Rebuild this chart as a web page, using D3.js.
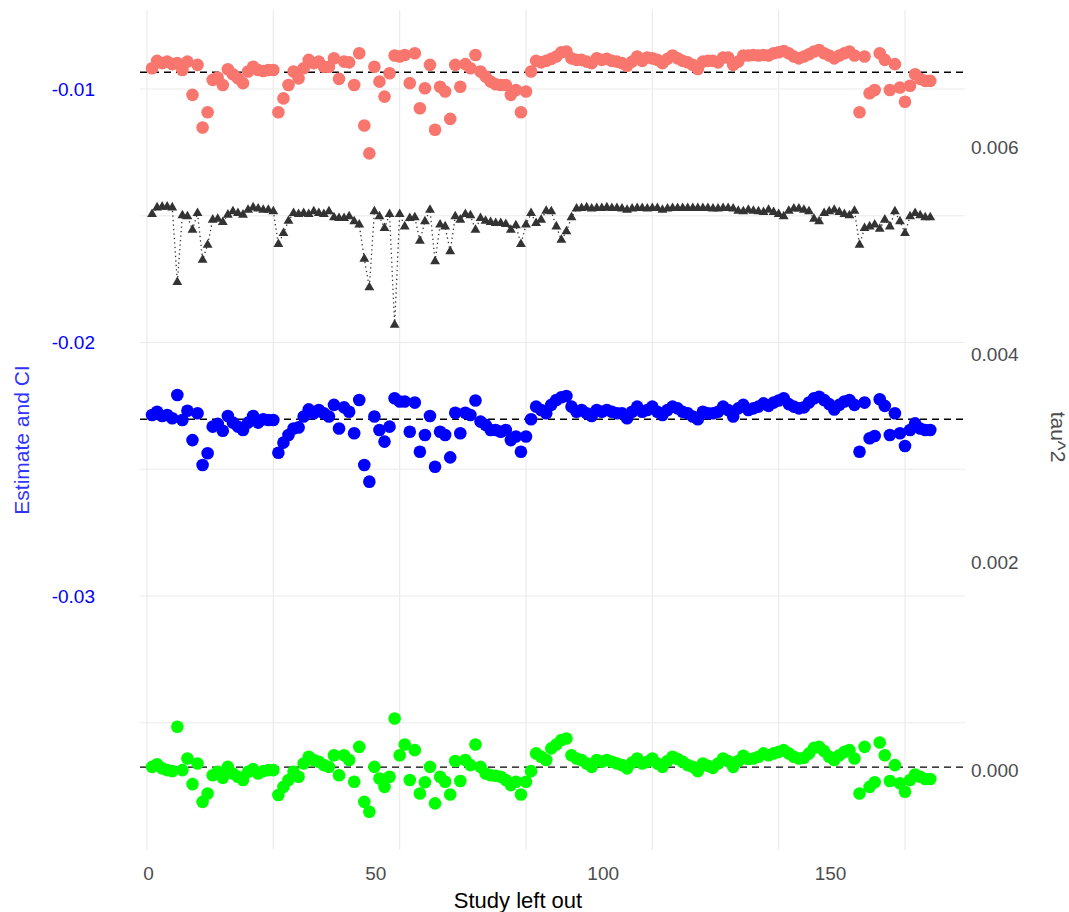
<!DOCTYPE html>
<html lang="en">
<head>
<meta charset="UTF-8">
<script src="https://d3js.org/d3.v7.min.js"></script>
<title>Leave-one-out</title>
<style>
  body { margin: 0; background: #fff; }
  svg { display: block; font-family: "Liberation Sans", Arial, sans-serif; }
</style>
</head>
<body>
<svg width="1069" height="912"></svg>
<script>
// study left out (1..155)
const study = d3.range(1, 156)

// pooled estimate with each study left out
const estimate = [
  -0.02286, -0.02273, -0.02290, -0.02286, -0.02299, -0.02207, -0.02306, -0.02269, -0.02385, -0.02279,
  -0.02483, -0.02437, -0.02332, -0.02321, -0.02348, -0.02290, -0.02316, -0.02332, -0.02345, -0.02316,
  -0.02290, -0.02316, -0.02303, -0.02306, -0.02306, -0.02435, -0.02395, -0.02365, -0.02339, -0.02335,
  -0.02292, -0.02264, -0.02279, -0.02266, -0.02279, -0.02292, -0.02246, -0.02339, -0.02256, -0.02273,
  -0.02358, -0.02227, -0.02483, -0.02549, -0.02292, -0.02345, -0.02391, -0.02332, -0.02220, -0.02233,
  -0.02233, -0.02352, -0.02237, -0.02431, -0.02365, -0.02290, -0.02490, -0.02352, -0.02365, -0.02453,
  -0.02277, -0.02358, -0.02277, -0.02286, -0.02229, -0.02312, -0.02325, -0.02345, -0.02345, -0.02352,
  -0.02345, -0.02385, -0.02371, -0.02431, -0.02371, -0.02303, -0.02253, -0.02266, -0.02279, -0.02246,
  -0.02227, -0.02216, -0.02211, -0.02253, -0.02273, -0.02266, -0.02279, -0.02290, -0.02266, -0.02273,
  -0.02266, -0.02273, -0.02279, -0.02279, -0.02299, -0.02273, -0.02253, -0.02273, -0.02266, -0.02253,
  -0.02273, -0.02286, -0.02266, -0.02253, -0.02260, -0.02273, -0.02279, -0.02292, -0.02303, -0.02273,
  -0.02279, -0.02279, -0.02273, -0.02253, -0.02266, -0.02292, -0.02260, -0.02246, -0.02266, -0.02260,
  -0.02253, -0.02240, -0.02250, -0.02237, -0.02229, -0.02220, -0.02243, -0.02253, -0.02260, -0.02256,
  -0.02237, -0.02220, -0.02214, -0.02227, -0.02243, -0.02264, -0.02246, -0.02233, -0.02227, -0.02246,
  -0.02431, -0.02237, -0.02378, -0.02369, -0.02224, -0.02250, -0.02365, -0.02279, -0.02358, -0.02408,
  -0.02345, -0.02319, -0.02339, -0.02345, -0.02345
]

// upper CI bound
const upper = [
  -0.00918, -0.00889, -0.00898, -0.00892, -0.00902, -0.00898, -0.00925, -0.00892, -0.01023, -0.00905,
  -0.01152, -0.01092, -0.00964, -0.00955, -0.00984, -0.00922, -0.00942, -0.00958, -0.00977, -0.00931,
  -0.00912, -0.00925, -0.00929, -0.00925, -0.00925, -0.01092, -0.01037, -0.00984, -0.00931, -0.00958,
  -0.00918, -0.00885, -0.00898, -0.00892, -0.00912, -0.00912, -0.00879, -0.00960, -0.00892, -0.00895,
  -0.00984, -0.00859, -0.01144, -0.01254, -0.00912, -0.00971, -0.01030, -0.00938, -0.00868, -0.00872,
  -0.00866, -0.00977, -0.00859, -0.01076, -0.00997, -0.00905, -0.01161, -0.00991, -0.01010, -0.01118,
  -0.00905, -0.00991, -0.00902, -0.00918, -0.00866, -0.00931, -0.00951, -0.00971, -0.00981, -0.00984,
  -0.00984, -0.01023, -0.01004, -0.01092, -0.01010, -0.00931, -0.00889, -0.00895, -0.00889, -0.00881,
  -0.00872, -0.00855, -0.00852, -0.00879, -0.00885, -0.00885, -0.00892, -0.00898, -0.00879, -0.00885,
  -0.00881, -0.00889, -0.00892, -0.00898, -0.00908, -0.00892, -0.00872, -0.00889, -0.00876, -0.00879,
  -0.00885, -0.00898, -0.00881, -0.00868, -0.00879, -0.00889, -0.00895, -0.00905, -0.00921, -0.00892,
  -0.00889, -0.00889, -0.00895, -0.00876, -0.00876, -0.00905, -0.00892, -0.00868, -0.00868, -0.00866,
  -0.00868, -0.00866, -0.00868, -0.00859, -0.00855, -0.00850, -0.00859, -0.00872, -0.00879, -0.00872,
  -0.00863, -0.00852, -0.00846, -0.00859, -0.00868, -0.00879, -0.00868, -0.00859, -0.00852, -0.00868,
  -0.01092, -0.00872, -0.01017, -0.01004, -0.00859, -0.00885, -0.01004, -0.00902, -0.00994, -0.01050,
  -0.00987, -0.00942, -0.00960, -0.00968, -0.00968
]

// lower CI bound
const lower = [
  -0.03674, -0.03664, -0.03680, -0.03687, -0.03691, -0.03516, -0.03687, -0.03641, -0.03742, -0.03661,
  -0.03812, -0.03779, -0.03707, -0.03693, -0.03717, -0.03674, -0.03700, -0.03713, -0.03726, -0.03693,
  -0.03683, -0.03700, -0.03691, -0.03687, -0.03687, -0.03785, -0.03753, -0.03726, -0.03693, -0.03713,
  -0.03661, -0.03634, -0.03647, -0.03654, -0.03667, -0.03674, -0.03628, -0.03707, -0.03628, -0.03647,
  -0.03733, -0.03595, -0.03812, -0.03851, -0.03674, -0.03720, -0.03753, -0.03713, -0.03483, -0.03628,
  -0.03586, -0.03726, -0.03608, -0.03779, -0.03735, -0.03674, -0.03818, -0.03713, -0.03733, -0.03783,
  -0.03651, -0.03730, -0.03647, -0.03667, -0.03586, -0.03674, -0.03700, -0.03707, -0.03709, -0.03713,
  -0.03726, -0.03746, -0.03733, -0.03783, -0.03733, -0.03691, -0.03621, -0.03634, -0.03647, -0.03601,
  -0.03586, -0.03568, -0.03562, -0.03628, -0.03641, -0.03647, -0.03661, -0.03674, -0.03647, -0.03654,
  -0.03647, -0.03654, -0.03661, -0.03667, -0.03680, -0.03657, -0.03641, -0.03661, -0.03654, -0.03641,
  -0.03661, -0.03674, -0.03651, -0.03634, -0.03643, -0.03654, -0.03667, -0.03674, -0.03691, -0.03661,
  -0.03670, -0.03678, -0.03661, -0.03641, -0.03651, -0.03674, -0.03651, -0.03630, -0.03643, -0.03641,
  -0.03634, -0.03621, -0.03628, -0.03621, -0.03615, -0.03608, -0.03621, -0.03634, -0.03641, -0.03638,
  -0.03621, -0.03599, -0.03595, -0.03612, -0.03634, -0.03647, -0.03628, -0.03615, -0.03608, -0.03641,
  -0.03779, -0.03595, -0.03753, -0.03735, -0.03578, -0.03628, -0.03730, -0.03667, -0.03739, -0.03772,
  -0.03726, -0.03704, -0.03713, -0.03722, -0.03722
]

// heterogeneity tau^2 (right axis)
const tau2 = [
  0.005353, 0.005417, 0.005424, 0.005424, 0.005417, 0.004698, 0.005340, 0.005331, 0.005202, 0.005363,
  0.004913, 0.005058, 0.005299, 0.005308, 0.005276, 0.005347, 0.005379, 0.005363, 0.005347, 0.005395,
  0.005417, 0.005405, 0.005395, 0.005395, 0.005379, 0.005064, 0.005170, 0.005289, 0.005363, 0.005353,
  0.005363, 0.005353, 0.005379, 0.005363, 0.005353, 0.005379, 0.005321, 0.005315, 0.005315, 0.005331,
  0.005283, 0.005251, 0.004923, 0.004647, 0.005379, 0.005331, 0.005218, 0.005353, 0.004287, 0.005353,
  0.005234, 0.005315, 0.005321, 0.005096, 0.005283, 0.005395, 0.004897, 0.005251, 0.005234, 0.004994,
  0.005331, 0.005299, 0.005353, 0.005340, 0.005202, 0.005315, 0.005289, 0.005276, 0.005267, 0.005267,
  0.005257, 0.005202, 0.005244, 0.005064, 0.005251, 0.005363, 0.005267, 0.005299, 0.005385, 0.005379,
  0.005234, 0.005106, 0.005186, 0.005321, 0.005405, 0.005411, 0.005417, 0.005405, 0.005411, 0.005411,
  0.005417, 0.005411, 0.005411, 0.005405, 0.005395, 0.005405, 0.005411, 0.005411, 0.005405, 0.005411,
  0.005411, 0.005395, 0.005405, 0.005411, 0.005411, 0.005411, 0.005411, 0.005411, 0.005411, 0.005411,
  0.005411, 0.005405, 0.005405, 0.005411, 0.005411, 0.005405, 0.005385, 0.005379, 0.005395, 0.005385,
  0.005379, 0.005372, 0.005395, 0.005372, 0.005353, 0.005331, 0.005385, 0.005405, 0.005405, 0.005395,
  0.005379, 0.005308, 0.005283, 0.005363, 0.005379, 0.005395, 0.005372, 0.005353, 0.005340, 0.005385,
  0.005058, 0.005218, 0.005234, 0.005251, 0.005212, 0.005299, 0.005234, 0.005379, 0.005283, 0.005170,
  0.005331, 0.005363, 0.005340, 0.005321, 0.005321
]

// full-model reference lines
const refLines = [
  { value: -0.00934 },
  { value: -0.02303 },
  { value: -0.03675 }
]

const xTicks = [0, 50, 100, 150]
const yTicks = [-0.03, -0.02, -0.01]
const tauTicks = [0, 0.002, 0.004, 0.006]

const svg = d3.select("svg")
const panel = { left: 140, right: 965, top: 10, bottom: 850 }

const xScale = d3.scaleLinear().domain([0, 150]).range([147, 905])
const xLabelScale = d3.scaleLinear().domain([0, 150]).range([148, 830])
const yScale = d3.scaleLinear().domain([-0.03, -0.01]).range([596, 89])
const tauScale = d3.scaleLinear().domain([0, 0.006]).range([770, 147])

// hyphen minus like the original
const fmt2 = d => d3.format(".2f")(d).replace("\u2212", "-")

svg.append("rect").attr("width", 1069).attr("height", 912).attr("fill", "#fff")

// grid
const grid = svg.append("g")
grid.selectAll(".vg").data(d3.range(0, 151, 25)).enter().append("line")
  .attr("x1", d => xScale(d)).attr("x2", d => xScale(d))
  .attr("y1", panel.top).attr("y2", panel.bottom)
  .attr("stroke", "#ebebeb").attr("stroke-width", 1.2)
grid.selectAll(".hg").data([-0.035, -0.03, -0.025, -0.02, -0.015, -0.01]).enter().append("line")
  .attr("x1", panel.left).attr("x2", panel.right)
  .attr("y1", d => yScale(d)).attr("y2", d => yScale(d))
  .attr("stroke", "#ebebeb").attr("stroke-width", 1.2)

// reference dashed lines
svg.selectAll(".ref").data(refLines).enter().append("line")
  .attr("x1", panel.left).attr("x2", panel.right)
  .attr("y1", d => yScale(d.value)).attr("y2", d => yScale(d.value))
  .attr("stroke", "#000").attr("stroke-width", 1.4)
  .attr("stroke-dasharray", "7,5")

// tau^2 dotted line + triangles
const tauData = study.map((s, i) => ({ x: s, y: tau2[i] }))
svg.append("path").datum(tauData)
  .attr("fill", "none").attr("stroke", "#333").attr("stroke-width", 1.3)
  .attr("stroke-dasharray", "1.3,3.2")
  .attr("d", d3.line().x(d => xScale(d.x)).y(d => tauScale(d.y)))
svg.selectAll(".tri").data(tauData).enter().append("path")
  .attr("transform", d => `translate(${xScale(d.x)},${tauScale(d.y)})`)
  .attr("d", d3.symbol(d3.symbolTriangle, 42))
  .attr("fill", "#333")

// points
const series = [
  { values: upper, color: "#F8766D" },
  { values: estimate, color: "#0000FF" },
  { values: lower, color: "#00FF00" }
]
series.forEach(s => {
  svg.append("g").selectAll("circle").data(s.values).enter().append("circle")
    .attr("cx", (d, i) => xScale(study[i]))
    .attr("cy", d => yScale(d))
    .attr("r", 6.3)
    .attr("fill", s.color)
})

// axes
const xAxis = svg.append("g").attr("transform", `translate(0,${panel.bottom + 13})`)
  .call(d3.axisBottom(xLabelScale).tickValues(xTicks).tickSize(0).tickFormat(d3.format("d")))
xAxis.select(".domain").remove()
xAxis.selectAll("text").attr("fill", "#4d4d4d").style("font-size", "19px")

const yAxis = svg.append("g").attr("transform", "translate(98,0)")
  .call(d3.axisLeft(yScale).tickValues(yTicks).tickSize(0).tickFormat(fmt2))
yAxis.select(".domain").remove()
yAxis.selectAll("text").attr("fill", "#0000FF").style("font-size", "19px")

const tAxis = svg.append("g").attr("transform", "translate(968,0)")
  .call(d3.axisRight(tauScale).tickValues(tauTicks).tickSize(0).tickFormat(d3.format(".3f")))
tAxis.select(".domain").remove()
tAxis.selectAll("text").attr("fill", "#4d4d4d").style("font-size", "19px")

// titles
svg.append("text").attr("x", 518).attr("y", 908).attr("text-anchor", "middle")
  .style("font-size", "22px").attr("fill", "#000").text("Study left out")
svg.append("text").attr("transform", "translate(29,440) rotate(-90)").attr("text-anchor", "middle")
  .style("font-size", "21px").attr("fill", "#3333ff").text("Estimate and CI")
svg.append("text").attr("transform", "translate(1051,437) rotate(90)").attr("text-anchor", "middle")
  .style("font-size", "21px").attr("fill", "#4d4d4d").text("tau^2")
</script>
</body>
</html>
